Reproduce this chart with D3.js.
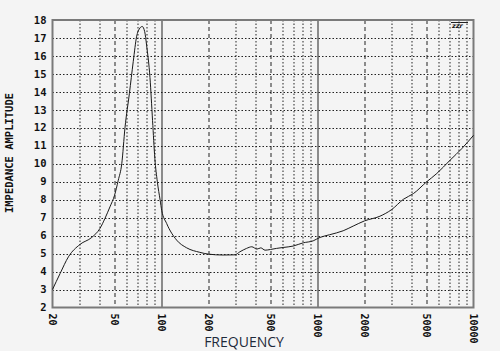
<!DOCTYPE html>
<html>
<head>
<meta charset="utf-8">
<script src="https://cdn.jsdelivr.net/npm/d3@7"></script>
<style>
  html, body { margin: 0; padding: 0; background: #f4f4f4; }
  svg { display: block; }
</style>
</head>
<body>
<div id="chart"></div>
<script>
const freq = [20, 22.4, 25.3, 30, 35.7, 40.3, 43.4, 46.7, 50, 52.8, 55.6, 58.3, 62.2, 65.9, 69.3, 72, 75.2, 78, 80.2, 84.3, 87.6, 90.6, 94, 98, 100.3, 107.8, 125, 145, 176, 200, 248, 295, 318, 351, 379, 409, 433, 461, 500, 547, 602, 698, 810, 938, 1037, 1196, 1460, 1692, 2000, 2512, 2988, 3550, 4120, 5000, 5820, 7080, 8410, 10000];
const impedance = [3.0, 3.9, 4.82, 5.51, 5.9, 6.4, 6.96, 7.6, 8.25, 9.08, 10.0, 12.0, 13.9, 15.7, 17.1, 17.5, 17.64, 17.35, 16.6, 14.8, 12.4, 10.3, 9.0, 7.97, 7.4, 6.68, 5.75, 5.32, 5.07, 4.97, 4.92, 4.93, 5.1, 5.29, 5.38, 5.25, 5.32, 5.19, 5.23, 5.29, 5.34, 5.42, 5.6, 5.71, 5.9, 6.05, 6.27, 6.53, 6.82, 7.08, 7.45, 8.02, 8.34, 8.99, 9.46, 10.2, 10.84, 11.58];

const xTickLabels = [20, 50, 100, 200, 500, 1000, 2000, 5000, 10000];
const yTickLabels = [2, 3, 4, 5, 6, 7, 8, 9, 10, 11, 12, 13, 14, 15, 16, 17, 18];

const data = freq.map((f, i) => ({ f: f, z: impedance[i] }));

const W = 500, H = 351;
const margin = { top: 20, right: 26.5, bottom: 43.5, left: 52.5 };
const width = W - margin.left - margin.right;
const height = H - margin.top - margin.bottom;

const svg = d3.select('#chart')
  .append('svg')
  .attr('width', W)
  .attr('height', H);

const g = svg.append('g')
  .attr('transform', `translate(${margin.left},${margin.top})`);

// scales
const x = d3.scaleLog().domain([20, 10000]).range([0, width]);
const y = d3.scaleLinear().domain([2, 18]).range([height, 0]);

// horizontal grid (dotted)
g.append('g')
  .selectAll('line')
  .data(yTickLabels.slice(1, -1))
  .enter().append('line')
  .attr('x1', 0).attr('x2', width)
  .attr('y1', d => Math.round(y(d)) + 0.5)
  .attr('y2', d => Math.round(y(d)) + 0.5)
  .attr('stroke', '#222')
  .attr('stroke-width', 1)
  .attr('stroke-dasharray', '1.5,2');

// vertical grid: 1-9 per decade, solid at decades, dashed at 2 and 5
const vLines = [];
[10, 100, 1000].forEach(dec => {
  for (let k = 1; k <= 9; k++) {
    const f = dec * k;
    if (f > 20 && f < 10000) vLines.push(f);
  }
});
g.append('g')
  .selectAll('line')
  .data(vLines)
  .enter().append('line')
  .attr('x1', d => Math.round(x(d)) + 0.5)
  .attr('x2', d => Math.round(x(d)) + 0.5)
  .attr('y1', 0).attr('y2', height)
  .attr('stroke', '#222')
  .attr('stroke-width', 1)
  .attr('stroke-dasharray', d => {
    const m = Math.round(d / Math.pow(10, Math.floor(Math.log10(d) + 1e-9)));
    if (m === 1) return null;
    if (m === 2 || m === 5) return '4,3';
    return '1.5,2';
  });

// frame
g.append('rect')
  .attr('x', 0).attr('y', 0)
  .attr('width', width).attr('height', height)
  .attr('fill', 'none')
  .attr('stroke', '#7a7a7a')
  .attr('stroke-width', 2);

// y axis labels
g.append('g')
  .selectAll('text')
  .data(yTickLabels)
  .enter().append('text')
  .attr('x', -6)
  .attr('y', d => y(d))
  .attr('dy', '0.35em')
  .attr('text-anchor', 'end')
  .attr('font-family', 'DejaVu Sans Mono, monospace')
  .attr('font-weight', 'bold')
  .attr('font-size', 10.5)
  .attr('fill', '#111')
  .text(d => d);

// x axis labels (rotated)
g.append('g')
  .selectAll('text')
  .data(xTickLabels)
  .enter().append('text')
  .attr('transform', d => `translate(${x(d)},${height + 6}) rotate(90)`)
  .attr('dy', '0.35em')
  .attr('text-anchor', 'start')
  .attr('font-family', 'DejaVu Sans Mono, monospace')
  .attr('font-weight', 'bold')
  .attr('font-size', 10)
  .attr('fill', '#111')
  .text(d => d);

// impedance line
const line = d3.line()
  .x(d => x(d.f))
  .y(d => y(d.z))
  .curve(d3.curveMonotoneX);

g.append('path')
  .datum(data)
  .attr('fill', 'none')
  .attr('stroke', '#1a1a1a')
  .attr('stroke-width', 1)
  .attr('d', line);

// axis titles
svg.append('text')
  .attr('transform', `translate(13,153) rotate(-90)`)
  .attr('text-anchor', 'middle')
  .attr('font-family', 'DejaVu Sans Mono, monospace')
  .attr('font-weight', 'bold')
  .attr('font-size', 10.5)
  .attr('fill', '#111')
  .text('IMPEDANCE AMPLITUDE');

svg.append('text')
  .attr('x', 244)
  .attr('y', 347)
  .attr('text-anchor', 'middle')
  .attr('font-family', 'Open Sans, sans-serif')
  .attr('font-size', 14)
  .attr('fill', '#1e2a3a')
  .text('FREQUENCY');

// small logo mark at top right
svg.append('line')
  .attr('x1', 451).attr('x2', 468)
  .attr('y1', 22.5).attr('y2', 22.5)
  .attr('stroke', '#222').attr('stroke-width', 1);
svg.append('text')
  .attr('x', 452).attr('y', 28)
  .attr('font-family', 'DejaVu Sans, sans-serif')
  .attr('font-style', 'italic')
  .attr('font-weight', 'bold')
  .attr('font-size', 6.5)
  .attr('fill', '#111')
  .text('zzr');
</script>
</body>
</html>
